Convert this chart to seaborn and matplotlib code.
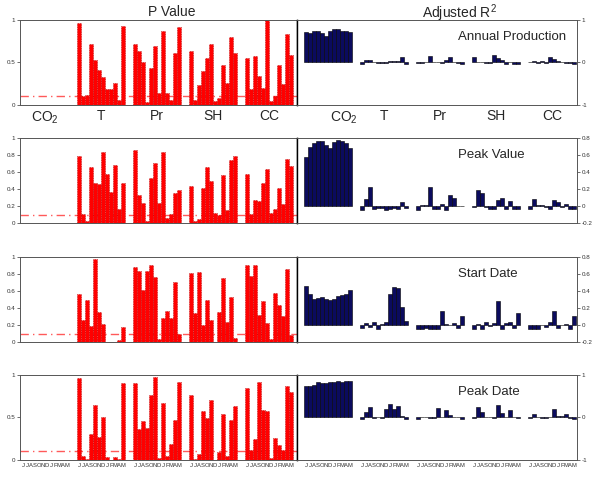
import numpy as np
import pandas as pd
import seaborn as sns
import matplotlib.pyplot as plt

groups = ['CO$_2$', 'T', 'Pr', 'SH', 'CC']
months = ['J', 'J', 'A', 'S', 'O', 'N', 'D', 'J', 'F', 'M', 'A', 'M']
rows = ['Annual Production', 'Peak Value', 'Start Date', 'Peak Date']

# P values, one list of 12 months per group (CO2, T, Pr, SH, CC)
p_annual = [
    [0, 0, 0, 0, 0, 0, 0, 0, 0, 0, 0, 0],
    [0.97, 0.11, 0.12, 0.72, 0.53, 0.41, 0.33, 0.19, 0.19, 0.26, 0.06, 0.93],
    [0.72, 0.64, 0.51, 0.04, 0.43, 0.69, 0.14, 0.87, 0.14, 0.06, 0.61, 0.92],
    [0.64, 0.06, 0.23, 0.40, 0.55, 0.72, 0.05, 0.08, 0.47, 0.26, 0.80, 0.61],
    [0.55, 0.19, 0.58, 0.34, 0.20, 1.00, 0.05, 0.11, 0.47, 0.25, 0.83, 0.59],
]
p_peakval = [
    [0, 0, 0, 0, 0, 0, 0, 0, 0, 0, 0, 0],
    [0.79, 0.11, 0.02, 0.66, 0.47, 0.46, 0.83, 0.58, 0.36, 0.68, 0.16, 0.47],
    [0.86, 0.33, 0.24, 0.02, 0.53, 0.71, 0.24, 0.83, 0.06, 0.11, 0.35, 0.39],
    [0.44, 0.02, 0.05, 0.41, 0.66, 0.50, 0.12, 0.09, 0.57, 0.15, 0.74, 0.79],
    [0.58, 0.11, 0.27, 0.26, 0.47, 0.64, 0.12, 0.17, 0.41, 0.22, 0.75, 0.67],
]
p_start = [
    [0.005, 0.004, 0.004, 0.005, 0.004, 0.003, 0.005, 0.004, 0.003, 0.003, 0.004, 0.004],
    [0.56, 0.26, 0.49, 0.19, 0.98, 0.35, 0.21, 0.00, 0.00, 0.00, 0.02, 0.18],
    [0.88, 0.83, 0.61, 0.83, 0.90, 0.76, 0.04, 0.28, 0.37, 0.28, 0.71, 0.10],
    [0.81, 0.34, 0.82, 0.20, 0.49, 0.26, 0.00, 0.35, 0.75, 0.23, 0.53, 0.05],
    [0.91, 0.78, 0.90, 0.32, 0.48, 0.22, 0.04, 0.58, 0.43, 0.31, 0.86, 0.08],
]
p_peakdate = [
    [0, 0, 0, 0, 0, 0, 0, 0, 0, 0, 0, 0],
    [0.96, 0.05, 0.01, 0.31, 0.65, 0.27, 0.50, 0.03, 0.00, 0.04, 0.01, 0.90],
    [0.91, 0.36, 0.46, 0.38, 0.77, 0.98, 0.02, 0.67, 0.05, 0.19, 0.47, 0.92],
    [0.76, 0.01, 0.07, 0.58, 0.49, 0.71, 0.00, 0.09, 0.54, 0.05, 0.47, 0.63],
    [0.85, 0.12, 0.25, 0.92, 0.59, 0.58, 0.02, 0.26, 0.18, 0.12, 0.87, 0.80],
]

# adjusted R^2
r2_annual = [
    [0.72, 0.70, 0.73, 0.75, 0.70, 0.63, 0.73, 0.79, 0.78, 0.75, 0.74, 0.72],
    [-0.03, 0.07, 0.07, 0.00, -0.02, -0.02, -0.01, 0.03, 0.03, 0.03, 0.12, -0.03],
    [-0.02, -0.02, 0.02, 0.16, 0.02, 0.02, -0.02, 0.07, 0.12, 0.02, -0.02, -0.03],
    [0.12, 0.02, 0.02, -0.02, -0.02, 0.17, 0.10, 0.06, -0.03, 0.01, -0.03, -0.03],
    [0.01, 0.03, -0.01, 0.03, -0.02, 0.14, 0.08, 0.04, 0.02, -0.02, -0.02, -0.03],
]
r2_peakval = [
    [0.58, 0.69, 0.74, 0.76, 0.77, 0.72, 0.68, 0.75, 0.78, 0.77, 0.74, 0.68],
    [-0.05, 0.08, 0.22, -0.03, -0.02, -0.02, -0.05, -0.03, -0.02, -0.04, 0.05, -0.02],
    [-0.05, 0.01, 0.01, 0.22, -0.03, -0.04, 0.02, -0.05, 0.13, 0.09, 0.00, 0.00],
    [-0.01, 0.19, 0.15, -0.01, -0.04, -0.03, 0.07, 0.09, -0.03, 0.06, -0.04, -0.04],
    [-0.03, 0.08, 0.01, 0.01, -0.01, -0.03, 0.07, 0.05, -0.01, 0.02, -0.04, -0.04],
]
r2_start = [
    [0.46, 0.37, 0.30, 0.32, 0.33, 0.30, 0.29, 0.31, 0.34, 0.35, 0.37, 0.41],
    [-0.03, 0.02, -0.02, 0.04, -0.05, 0.01, 0.03, 0.37, 0.45, 0.43, 0.21, 0.05],
    [-0.05, -0.05, -0.04, -0.05, -0.05, -0.05, 0.17, 0.01, 0.00, 0.02, -0.04, 0.10],
    [-0.05, 0.01, -0.05, 0.04, -0.01, 0.02, 0.28, -0.05, 0.02, 0.03, -0.03, 0.14],
    [-0.05, -0.05, -0.05, 0.00, -0.02, 0.03, 0.17, -0.03, 0.00, 0.01, -0.05, 0.11],
]
r2_peakdate = [
    [0.75, 0.75, 0.77, 0.83, 0.81, 0.80, 0.83, 0.84, 0.85, 0.84, 0.85, 0.85],
    [-0.03, 0.14, 0.25, -0.02, 0.02, -0.01, 0.19, 0.32, 0.19, 0.26, 0.04, -0.03],
    [-0.03, 0.00, 0.00, -0.01, -0.02, 0.22, 0.02, 0.17, 0.05, 0.02, 0.00, -0.03],
    [-0.02, 0.25, 0.12, 0.01, 0.00, -0.01, 0.29, 0.10, 0.02, 0.17, 0.02, -0.02],
    [-0.02, 0.08, 0.02, -0.02, -0.01, 0.00, 0.20, 0.03, 0.04, 0.08, -0.02, -0.03],
]

p_all = [p_annual, p_peakval, p_start, p_peakdate]
r2_all = [r2_annual, r2_peakval, r2_start, r2_peakdate]

recs = []
for name, pv, rv in zip(rows, p_all, r2_all):
    for g in range(5):
        for m in range(12):
            recs.append({'row': name, 'x': 14 * g + m, 'p': pv[g][m], 'r2': rv[g][m]})
df = pd.DataFrame(recs)

sns.set_style('ticks')
plt.rcParams['font.family'] = ['Liberation Sans', 'DejaVu Sans']
plt.rcParams['mathtext.fontset'] = 'custom'
plt.rcParams['mathtext.rm'] = 'Liberation Sans'
plt.rcParams['mathtext.it'] = 'Liberation Sans:italic'

fig = plt.figure(figsize=(6.01, 4.79), dpi=100)
bottoms = [0.7808, 0.5344, 0.2860, 0.0397]
h = 0.1775
left_ticks = [[0, 0.5, 1], [0, 0.2, 0.4, 0.6, 0.8, 1], [0, 0.2, 0.4, 0.6, 0.8, 1], [0, 0.5, 1]]
right_lims = [(-1, 1), (-0.2, 0.8), (-0.2, 0.8), (-1, 1)]
right_ticks = [[-1, 0, 1], [-0.2, 0, 0.2, 0.4, 0.6, 0.8], [-0.2, 0, 0.2, 0.4, 0.6, 0.8], [-1, 0, 1]]
centers = [14 * g + 5.5 for g in range(5)]
all_x = sorted(df['x'].unique())

for i, name in enumerate(rows):
    sub = df[df['row'] == name]
    axl = fig.add_axes([0.0333, bottoms[i], 0.4609, h])
    axr = fig.add_axes([0.4942, bottoms[i], 0.4659, h])

    axl.axhline(0.1, color='#ff5a5a', ls=(0, (6, 3, 1, 3)), lw=1.0, zorder=0)
    sns.barplot(data=sub, x='x', y='p', native_scale=True, width=1, color='#ff0000',
                edgecolor='#b00000', linewidth=0.5, linestyle=(0, (1, 1.5)),
                saturation=1, errorbar=None, ax=axl)
    sns.barplot(data=sub, x='x', y='r2', native_scale=True, width=1, color='#0b0b5e',
                edgecolor='#000000', linewidth=0.4, saturation=1, errorbar=None, ax=axr)

    axl.set_xlim(-0.75, 68.5)
    axr.set_xlim(-2.25, 67.75)
    axl.set_ylim(0, 1)
    axr.set_ylim(*right_lims[i])
    axl.set_yticks(left_ticks[i])
    axl.set_yticklabels([f'{t:g}' for t in left_ticks[i]])
    axr.yaxis.tick_right()
    axr.set_yticks(right_ticks[i])
    axr.set_yticklabels([f'{t:g}' for t in right_ticks[i]])
    for ax in (axl, axr):
        ax.set_xlabel('')
        ax.set_ylabel('')
        ax.tick_params(axis='y', labelsize=4.5, length=2, width=0.5, pad=1.5, colors='#333333')
        for s in ax.spines.values():
            s.set_visible(True)
            s.set_color('#555555')
            s.set_linewidth(0.7)
    axl.spines['right'].set_color('black')
    axl.spines['right'].set_linewidth(1)
    axr.spines['left'].set_color('black')
    axr.spines['left'].set_linewidth(1)

    if i == 0:
        axl.set_xticks(centers)
        axl.set_xticklabels(groups)
        axr.set_xticks([centers[0] + 4] + centers[1:])
        axr.set_xticklabels(groups)
        for ax in (axl, axr):
            ax.tick_params(axis='x', labelsize=10, length=0, pad=3)
    elif i == 3:
        for ax in (axl, axr):
            ax.set_xticks(all_x)
            ax.set_xticklabels(months * 5)
            ax.tick_params(axis='x', labelsize=4.2, length=0, pad=2, colors='#333333')
    else:
        axl.set_xticks([])
        axr.set_xticks([])

    axr.text(0.575, 0.8, name, transform=axr.transAxes, fontsize=9.5,
             ha='left', va='center')

fig.text(172 / 601, 1 - 12 / 479, 'P Value', ha='center', va='center', fontsize=10)
fig.text(459 / 601, 1 - 13 / 479, 'Adjusted R$^2$', ha='center', va='center', fontsize=10)

fig.savefig('out.png', dpi=100)
